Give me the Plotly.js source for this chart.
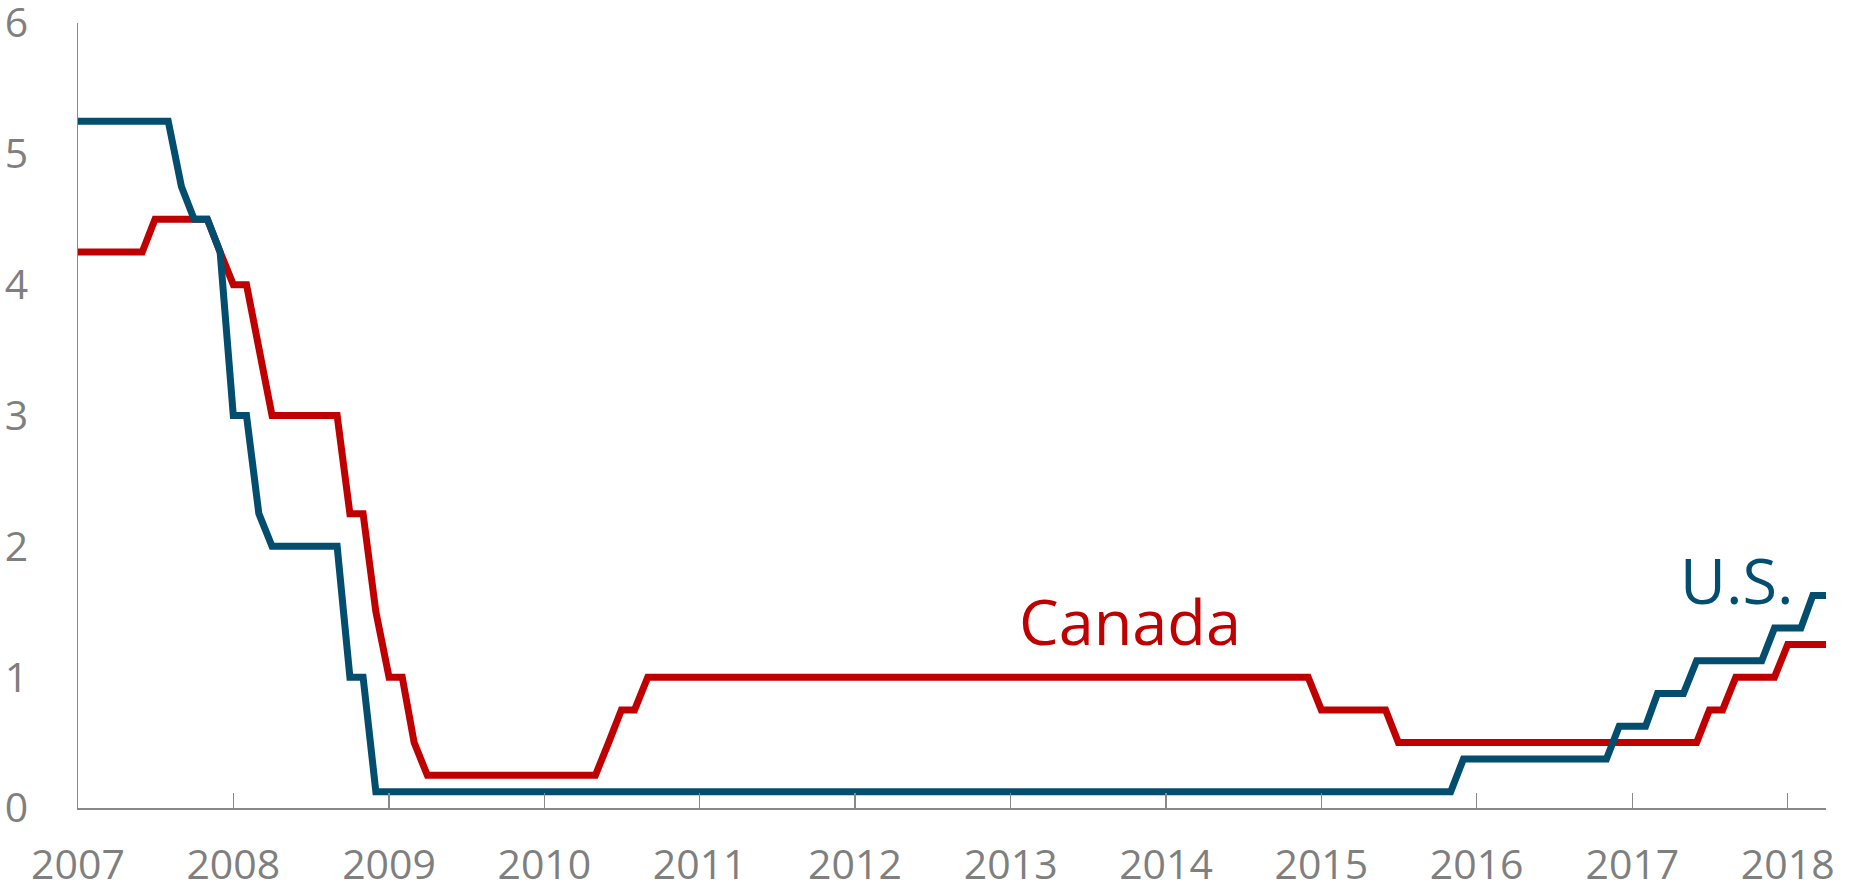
<!DOCTYPE html>
<html>
<head>
<meta charset="utf-8">
<script src="https://cdn.plot.ly/plotly-3.0.1.min.js"></script>
<style>
  html, body { margin: 0; padding: 0; background: #ffffff; }
  #chart { width: 1852px; height: 890px; }
</style>
</head>
<body>
<div id="chart"></div>
<script>
// Monthly policy rates, Jan 2007 .. Apr 2018 (one row per year)
const usRate = [
  5.25, 5.25, 5.25, 5.25, 5.25, 5.25, 5.25, 5.25, 4.75, 4.5, 4.5, 4.25,          // 2007
  3.0, 3.0, 2.25, 2.0, 2.0, 2.0, 2.0, 2.0, 2.0, 1.0, 1.0, 0.125,                  // 2008
  0.125, 0.125, 0.125, 0.125, 0.125, 0.125, 0.125, 0.125, 0.125, 0.125, 0.125, 0.125, // 2009
  0.125, 0.125, 0.125, 0.125, 0.125, 0.125, 0.125, 0.125, 0.125, 0.125, 0.125, 0.125, // 2010
  0.125, 0.125, 0.125, 0.125, 0.125, 0.125, 0.125, 0.125, 0.125, 0.125, 0.125, 0.125, // 2011
  0.125, 0.125, 0.125, 0.125, 0.125, 0.125, 0.125, 0.125, 0.125, 0.125, 0.125, 0.125, // 2012
  0.125, 0.125, 0.125, 0.125, 0.125, 0.125, 0.125, 0.125, 0.125, 0.125, 0.125, 0.125, // 2013
  0.125, 0.125, 0.125, 0.125, 0.125, 0.125, 0.125, 0.125, 0.125, 0.125, 0.125, 0.125, // 2014
  0.125, 0.125, 0.125, 0.125, 0.125, 0.125, 0.125, 0.125, 0.125, 0.125, 0.125, 0.375, // 2015
  0.375, 0.375, 0.375, 0.375, 0.375, 0.375, 0.375, 0.375, 0.375, 0.375, 0.375, 0.625, // 2016
  0.625, 0.625, 0.875, 0.875, 0.875, 1.125, 1.125, 1.125, 1.125, 1.125, 1.125, 1.375, // 2017
  1.375, 1.375, 1.625, 1.625                                                       // 2018
];
const canadaRate = [
  4.25, 4.25, 4.25, 4.25, 4.25, 4.25, 4.5, 4.5, 4.5, 4.5, 4.5, 4.25,             // 2007
  4.0, 4.0, 3.5, 3.0, 3.0, 3.0, 3.0, 3.0, 3.0, 2.25, 2.25, 1.5,                   // 2008
  1.0, 1.0, 0.5, 0.25, 0.25, 0.25, 0.25, 0.25, 0.25, 0.25, 0.25, 0.25,            // 2009
  0.25, 0.25, 0.25, 0.25, 0.25, 0.5, 0.75, 0.75, 1.0, 1.0, 1.0, 1.0,              // 2010
  1.0, 1.0, 1.0, 1.0, 1.0, 1.0, 1.0, 1.0, 1.0, 1.0, 1.0, 1.0,                     // 2011
  1.0, 1.0, 1.0, 1.0, 1.0, 1.0, 1.0, 1.0, 1.0, 1.0, 1.0, 1.0,                     // 2012
  1.0, 1.0, 1.0, 1.0, 1.0, 1.0, 1.0, 1.0, 1.0, 1.0, 1.0, 1.0,                     // 2013
  1.0, 1.0, 1.0, 1.0, 1.0, 1.0, 1.0, 1.0, 1.0, 1.0, 1.0, 1.0,                     // 2014
  0.75, 0.75, 0.75, 0.75, 0.75, 0.75, 0.5, 0.5, 0.5, 0.5, 0.5, 0.5,               // 2015
  0.5, 0.5, 0.5, 0.5, 0.5, 0.5, 0.5, 0.5, 0.5, 0.5, 0.5, 0.5,                     // 2016
  0.5, 0.5, 0.5, 0.5, 0.5, 0.5, 0.75, 0.75, 1.0, 1.0, 1.0, 1.0,                   // 2017
  1.25, 1.25, 1.25, 1.25                                                           // 2018
];
const xTickVals = ['2007-01-01','2008-01-01','2009-01-01','2010-01-01','2011-01-01','2012-01-01',
                   '2013-01-01','2014-01-01','2015-01-01','2016-01-01','2017-01-01','2018-01-01'];
const xTickText = ['2007','2008','2009','2010','2011','2012','2013','2014','2015','2016','2017','2018'];
const yTickVals = [0, 1, 2, 3, 4, 5, 6];
const yTickText = ['0', '1', '2', '3', '4', '5', '6'];
const seriesLabels = ['U.S.', 'Canada'];
const startYear = 2007, startMonth = 1;

// month axis (first of each month)
const months = [];
for (let i = 0; i < usRate.length; i++) {
  const y = startYear + Math.floor((startMonth - 1 + i) / 12);
  const m = ((startMonth - 1 + i) % 12) + 1;
  months.push(y + '-' + String(m).padStart(2, '0') + '-01');
}

const US_COLOR = '#034d6e';
const CA_COLOR = '#c00000';
const GRAY = '#898989';
const FONT = 'Open Sans, Noto Sans, sans-serif';

const traces = [
  { x: months, y: canadaRate, type: 'scatter', mode: 'lines', name: seriesLabels[1],
    line: { color: CA_COLOR, width: 7 }, cliponaxis: false, hoverinfo: 'x+y' },
  { x: months, y: usRate, type: 'scatter', mode: 'lines', name: seriesLabels[0],
    line: { color: US_COLOR, width: 7 }, cliponaxis: false, hoverinfo: 'x+y' }
];

const layout = {
  width: 1852, height: 890,
  margin: { l: 78, r: 26, t: 23, b: 82 },
  paper_bgcolor: '#ffffff', plot_bgcolor: '#ffffff',
  showlegend: false,
  font: { family: FONT, color: '#7f7f7f', size: 42 },
  xaxis: {
    type: 'date',
    range: ['2007-01-01', '2018-04-01'],
    tickmode: 'array', tickvals: xTickVals, ticktext: xTickText,
    ticks: 'inside', ticklen: 15, tickwidth: 1.5, tickcolor: GRAY,
    showline: true, linecolor: GRAY, linewidth: 1.5,
    showgrid: false, zeroline: false,
    tickfont: { family: FONT, size: 41, color: '#7f7f7f' },
    ticklabelstandoff: 20,
    ticklabeloverflow: 'allow'
  },
  yaxis: {
    range: [0, 6],
    tickmode: 'array', tickvals: yTickVals, ticktext: yTickText,
    ticks: '', showline: true, linecolor: GRAY, linewidth: 1.5,
    showgrid: false, zeroline: false,
    tickfont: { family: FONT, size: 41, color: '#7f7f7f' },
    ticklabelstandoff: 40,
    ticklabeloverflow: 'allow'
  },
  annotations: [
    { x: '2013-10-08', y: 1.43, xref: 'x', yref: 'y', text: seriesLabels[1],
      showarrow: false, xanchor: 'center', yanchor: 'middle',
      font: { family: FONT, size: 63, color: CA_COLOR } },
    { x: '2017-09-05', y: 1.745, xref: 'x', yref: 'y', text: seriesLabels[0],
      showarrow: false, xanchor: 'center', yanchor: 'middle',
      font: { family: FONT, size: 63, color: US_COLOR } }
  ]
};

Plotly.newPlot('chart', traces, layout, { displayModeBar: false, staticPlot: true });
</script>
</body>
</html>
